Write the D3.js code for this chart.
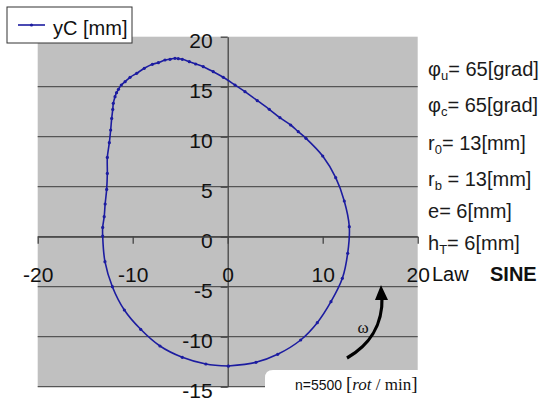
<!DOCTYPE html>
<html>
<head>
<meta charset="utf-8">
<script src="https://cdn.jsdelivr.net/npm/d3@7"></script>
<style>
  html, body { margin: 0; padding: 0; background: #fff; }
  svg { display: block; }
</style>
</head>
<body>
<svg id="chart" width="550" height="402"></svg>
<script>
// ---- data ----
const seriesName = "yC [mm]";
const xValues = [0.07, 2.98, 5.26, 7.68, 9.43, 10.87, 12.07, 12.63, 12.8, 12.27, 11.37, 10.0, 8.24, 7.43, 6.63, 5.5, 4.38, 3.12, 1.82, 0.77, -0.46, -1.52, -2.57, -3.37, -4.04, -4.78, -5.2, -5.55, -6.07, -6.6, -7.3, -7.93, -8.78, -9.58, -10.28, -10.8, -11.2, -11.5, -11.7, -11.86, -12.04, -12.1, -12.21, -12.32, -12.46, -12.67, -12.67, -12.74, -12.9, -13.0, -13.16, -13.16, -12.92, -12.14, -10.88, -9.16, -7.13, -4.78, -2.3, 0.07];
const yValues = [-12.93, -12.56, -11.76, -10.33, -8.6, -6.5, -4.16, -1.66, 1.0, 3.57, 5.9, 8.07, 9.84, 10.5, 11.17, 11.9, 12.74, 13.6, 14.5, 15.17, 15.94, 16.5, 17.0, 17.27, 17.5, 17.74, 17.8, 17.84, 17.74, 17.67, 17.4, 17.24, 16.84, 16.34, 15.94, 15.5, 15.17, 14.74, 14.4, 14.0, 13.34, 12.73, 11.83, 10.67, 9.4, 7.93, 6.33, 4.73, 3.27, 2.0, 0.93, 0.07, -2.5, -5.0, -7.33, -9.26, -10.93, -12.06, -12.73, -12.93];
const xTicks = [-20, -10, 0, 10, 20];
const yTicks = [-15, -10, -5, 0, 5, 10, 15, 20];
const gridValues = [-15, -10, -5, 0, 5, 10, 15];

const svg = d3.select("#chart");
const FONT = "'Liberation Sans', Arial, sans-serif";
const SERIF = "'Liberation Serif', 'Times New Roman', serif";
const fmt = d => String(d);

const x = d3.scaleLinear().domain([-20, 20]).range([37.7, 417.7]);
const y = d3.scaleLinear().domain([-15, 20]).range([386.7, 36.7]);

// plot area
svg.append("rect")
  .attr("x", x(-20)).attr("y", y(20))
  .attr("width", x(20) - x(-20)).attr("height", y(-15) - y(20))
  .attr("fill", "#c0c0c0");

// horizontal gridlines
svg.append("g").selectAll("line").data(gridValues).join("line")
  .attr("x1", x(-20)).attr("x2", x(20))
  .attr("y1", d => y(d)).attr("y2", d => y(d))
  .attr("stroke", "#555").attr("stroke-width", 1.3);

// y axis
const yAxis = svg.append("g")
  .attr("transform", `translate(${x(0)},0)`)
  .call(d3.axisLeft(y).tickValues(yTicks).tickFormat(fmt).tickSize(7).tickPadding(8).tickSizeOuter(0));
yAxis.select(".domain").attr("stroke", "#444").attr("stroke-width", 1.3);
yAxis.selectAll(".tick line").attr("stroke", "#444").attr("stroke-width", 1.3);
yAxis.selectAll(".tick text")
  .attr("font-family", FONT).attr("font-size", 21).attr("fill", "#111")
  .attr("dy", "0.5em");

// x axis
const xAxis = svg.append("g")
  .attr("transform", `translate(0,${y(0)})`)
  .call(d3.axisBottom(x).tickValues(xTicks).tickFormat(fmt).tickSize(7).tickSizeOuter(0));
xAxis.select(".domain").attr("stroke", "#444").attr("stroke-width", 1.3);
xAxis.selectAll(".tick line").attr("stroke", "#444").attr("stroke-width", 1.3);
xAxis.selectAll(".tick text")
  .attr("font-family", FONT).attr("font-size", 21).attr("fill", "#111")
  .attr("y", 45).attr("dy", 0);

// series
const pts = xValues.map((v, i) => [v, yValues[i]]);
const line = d3.line().x(d => x(d[0])).y(d => y(d[1])).curve(d3.curveCatmullRom);
svg.append("path").datum(pts)
  .attr("d", line).attr("fill", "none")
  .attr("stroke", "#1c1ca0").attr("stroke-width", 1.6);
svg.append("g").selectAll("circle").data(pts).join("circle")
  .attr("cx", d => x(d[0])).attr("cy", d => y(d[1])).attr("r", 1.6)
  .attr("fill", "#1c1ca0");

// legend
const lg = svg.append("g");
lg.append("rect").attr("x", 7).attr("y", 7).attr("width", 125).attr("height", 36)
  .attr("fill", "#fff").attr("stroke", "#333").attr("stroke-width", 1);
lg.append("line").attr("x1", 18).attr("x2", 45).attr("y1", 25).attr("y2", 25)
  .attr("stroke", "#1c1ca0").attr("stroke-width", 1.6);
lg.append("circle").attr("cx", 31.5).attr("cy", 25).attr("r", 1.6).attr("fill", "#1c1ca0");
lg.append("text").attr("x", 53).attr("y", 35)
  .attr("font-family", FONT).attr("font-size", 20).attr("fill", "#111").text(seriesName);

// right side parameter text
const params = [
  { main: "φ", sub: "u", rest: "= 65[grad]", yb: 76 },
  { main: "φ", sub: "c", rest: "= 65[grad]", yb: 112 },
  { main: "r", sub: "0", rest: "= 13[mm]", yb: 150 },
  { main: "r", sub: "b", rest: " = 13[mm]", yb: 186 },
  { main: "e", sub: "", rest: "= 6[mm]", yb: 218 },
  { main: "h", sub: "T", rest: "= 6[mm]", yb: 250 }
];
params.forEach(p => {
  const t = svg.append("text").attr("x", 428).attr("y", p.yb)
    .attr("font-family", FONT).attr("font-size", 20).attr("fill", "#1a1a1a");
  t.append("tspan").text(p.main);
  if (p.sub) t.append("tspan").attr("font-size", 13).attr("dy", 4).text(p.sub);
  t.append("tspan").attr("dy", p.sub ? -4 : 0).text(p.rest);
});
svg.append("text").attr("x", 432).attr("y", 281)
  .attr("font-family", FONT).attr("font-size", 20).attr("fill", "#111").text("Law");
svg.append("text").attr("x", 490).attr("y", 281)
  .attr("font-family", FONT).attr("font-size", 20).attr("font-weight", "bold")
  .attr("fill", "#111").text("SINE");

// rotation arrow
svg.append("path").attr("d", "M347,358 C368,346 383,326 382,297")
  .attr("fill", "none").attr("stroke", "#000").attr("stroke-width", 3.2);
svg.append("path").attr("d", "M381,285 L375,300 L388,300 Z").attr("fill", "#000");
svg.append("text").attr("x", 363).attr("y", 333).attr("text-anchor", "middle")
  .attr("font-family", SERIF).attr("font-size", 17).attr("fill", "#111").text("ω");

// white note box
svg.append("path").attr("d", "M265,402 L265,378 Q265,370 273,370 L470,370 L470,402 Z")
  .attr("fill", "#fff");
const nt = svg.append("text").attr("x", 295).attr("y", 390)
  .attr("font-family", SERIF).attr("font-size", 15).attr("fill", "#111");
nt.append("tspan").attr("font-family", FONT).attr("font-size", 14).text("n=5500 ");
nt.append("tspan").attr("font-size", 19).text("[");
nt.append("tspan").attr("font-style", "italic").attr("font-size", 17).text("rot");
nt.append("tspan").attr("font-size", 17).text(" / min");
nt.append("tspan").attr("font-size", 19).text("]");
</script>
</body>
</html>
